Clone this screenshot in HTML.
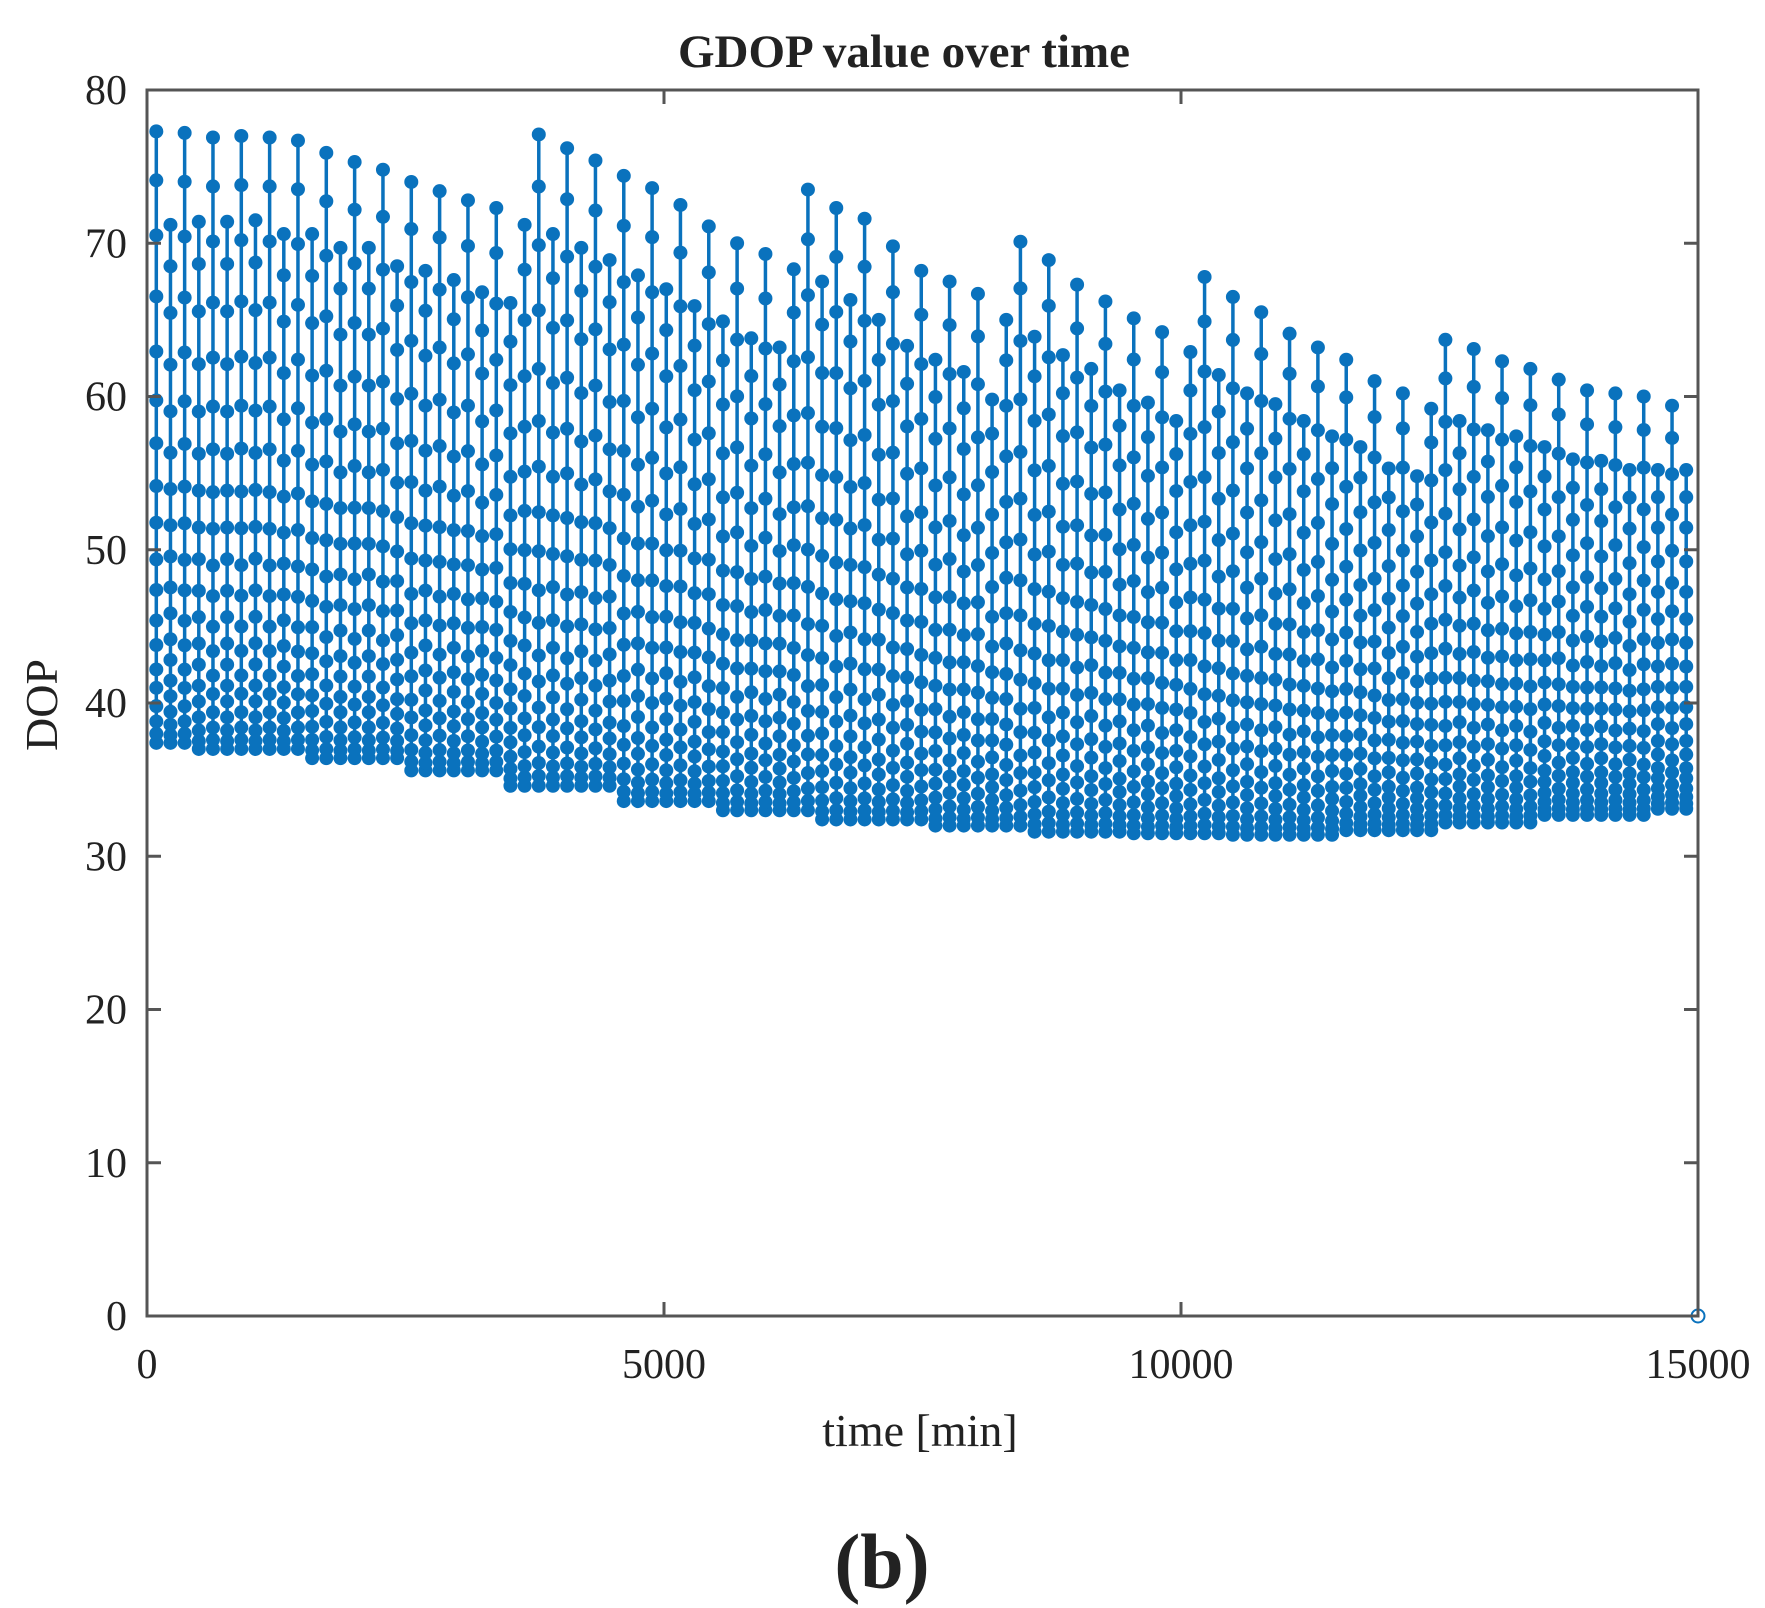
<!DOCTYPE html>
<html><head><meta charset="utf-8">
<style>
html,body{margin:0;padding:0;background:#fff;}
svg{display:block;}
text{font-family:"Liberation Serif",serif;fill:#222;}
</style></head>
<body>
<svg id="chart" width="1765" height="1608" viewBox="0 0 1765 1608" xmlns="http://www.w3.org/2000/svg">
  <text x="904" y="67" font-size="47" font-weight="bold" text-anchor="middle">GDOP value over time</text>
  <g id="marks"></g>
  <g id="axes"></g>
  <text x="920" y="1446" font-size="46" text-anchor="middle">time [min]</text>
  <text transform="translate(57,705) rotate(-90)" font-size="46" text-anchor="middle">DOP</text>
  <text x="882" y="1588" font-size="78" font-weight="bold" text-anchor="middle">(b)</text>
</svg>
<script>
// ---- data ----
const tStart = 90;       // first stem time (min)
const tStep = 137;       // stem spacing (min)
const stemTops = [77.3,71.2,77.2,71.4,76.9,71.4,77,71.5,76.9,70.6,76.7,70.6,75.9,69.7,75.3,69.7,74.8,68.5,74,68.2,73.4,67.6,72.8,66.8,72.3,66.1,71.2,77.1,70.6,76.2,69.7,75.4,68.9,74.4,67.9,73.6,67,72.5,65.9,71.1,64.9,70,63.8,69.3,63.2,68.3,73.5,67.5,72.3,66.3,71.6,65,69.8,63.3,68.2,62.4,67.5,61.6,66.7,59.8,65,70.1,63.9,68.9,62.7,67.3,61.8,66.2,60.4,65.1,59.6,64.2,58.4,62.9,67.8,61.4,66.5,60.2,65.5,59.5,64.1,58.4,63.2,57.4,62.4,56.7,61,55.3,60.2,54.8,59.2,63.7,58.4,63.1,57.8,62.3,57.4,61.8,56.7,61.1,55.9,60.4,55.8,60.2,55.2,60,55.2,59.4,55.2];
// lower envelope sampled every 1000 min (0..15000)
const bottomTimes = [0,1000,2000,3000,4000,5000,6000,7000,8000,9000,10000,11000,12000,13000,14000,15000];
const bottomVals = [37.4,37,36.4,35.6,34.6,33.6,33,32.4,32,31.6,31.5,31.4,31.7,32.2,32.7,33.1];
// relative level of intermediate markers along a stem (0=bottom,1=top)
const levelFracs = [0.015,0.035,0.06,0.09,0.12,0.16,0.2,0.25,0.3,0.36,0.42,0.49,0.56,0.64,0.73,0.83,0.92];
const xTicks = [0,5000,10000,15000];
const yTicks = [0,10,20,30,40,50,60,70,80];

// ---- axes functions ----
const L=147,R=1698,T=90,B=1316;
const xs = v => L + (v/15000)*(R-L);
const ys = v => B - (v/80)*(B-T);
const NS="http://www.w3.org/2000/svg";
function mk(tag, attrs, parent){const e=document.createElementNS(NS,tag);for(const k in attrs)e.setAttribute(k,attrs[k]);parent.appendChild(e);return e;}
const marks=document.getElementById('marks'), axes=document.getElementById('axes');
const C="#0a72bd";
function bottomAt(t){let i=0;let best=1e9;bottomTimes.forEach((bt,j)=>{const d=Math.abs(bt-t);if(d<best){best=d;i=j;}});return bottomVals[i];}

stemTops.forEach((top,i)=>{
  const t=tStart+i*tStep;
  const bot=bottomAt(t);
  const x=xs(t);
  const ln=mk('line',{x1:x,y1:ys(bot),x2:x,y2:ys(top),stroke:C,'stroke-width':3.5},marks);
  
  
  const vals=[bot].concat(levelFracs.map(f=>bot+f*(top-bot))).concat([top]);
  vals.forEach(v=>{
    const c=mk('circle',{cx:x,cy:ys(v),r:7,fill:C},marks);
    
    
  });
});
// zero point hollow marker at end
const z=mk('circle',{cx:xs(15000),cy:ys(0),r:6.5,fill:'#fff',stroke:C,'stroke-width':2},marks);



// frame
const fr=mk('rect',{x:L,y:T,width:R-L,height:B-T,fill:'none',stroke:'#555','stroke-width':3},axes);


yTicks.forEach(v=>{
  const y=ys(v);
  mk('line',{x1:L,y1:y,x2:L+14,y2:y,stroke:'#555','stroke-width':3},axes);
  mk('line',{x1:R,y1:y,x2:R-14,y2:y,stroke:'#555','stroke-width':3},axes);
  const tx=mk('text',{x:L-20,y:y+14,'font-size':42,'text-anchor':'end'},axes);
  tx.textContent=v;
  
  
});
xTicks.forEach(v=>{
  const x=xs(v);
  mk('line',{x1:x,y1:B,x2:x,y2:B-14,stroke:'#555','stroke-width':3},axes);
  mk('line',{x1:x,y1:T,x2:x,y2:T+14,stroke:'#555','stroke-width':3},axes);
  const tx=mk('text',{x:x,y:B+62,'font-size':42,'text-anchor':'middle'},axes);
  tx.textContent=v;
  
  
});
</script>
</body></html>
